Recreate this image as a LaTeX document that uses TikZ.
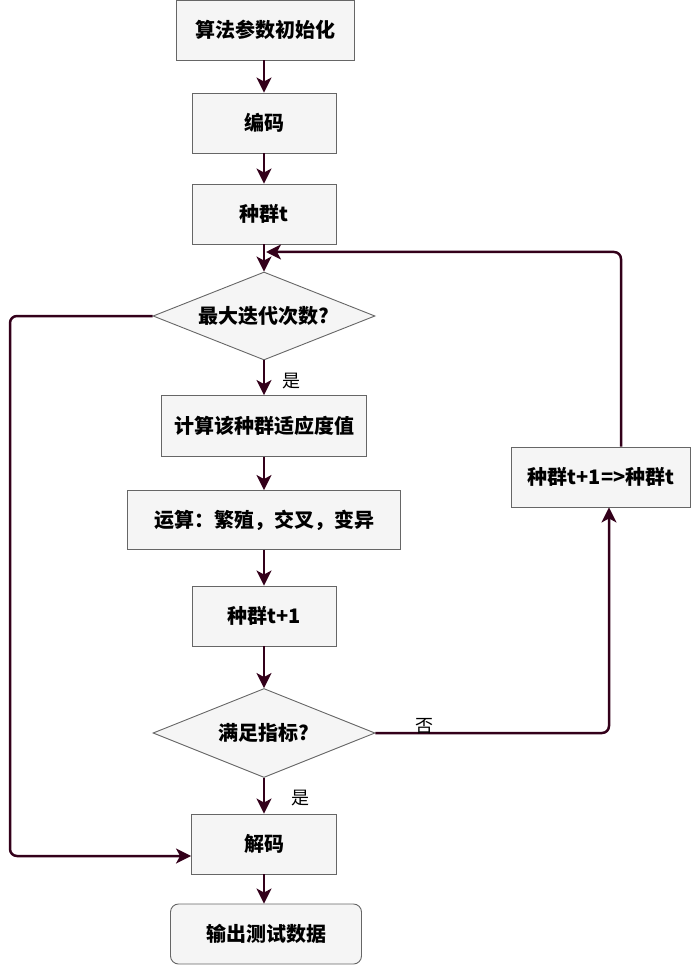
\documentclass[tikz,border=0pt]{standalone}
\usepackage{fontspec}
\setmainfont{Noto Sans CJK SC}
\usetikzlibrary{shapes.geometric,arrows.meta}
\definecolor{boxfill}{HTML}{F5F5F5}
\definecolor{boxline}{HTML}{666666}
\definecolor{flow}{HTML}{33001A}
\tikzset{
	proc/.style={fill=boxfill, draw=boxline, line width=0.9pt, inner sep=0pt, font=\fontsize{20}{23}\selectfont\bfseries},
	decide/.style={diamond, aspect=2.5, fill=boxfill, draw=boxline, line width=0.9pt, inner sep=0pt, font=\fontsize{20}{23}\selectfont\bfseries},
	flowline/.style={draw=flow, line width=2.5pt, rounded corners=7pt, -{Stealth[length=15pt,width=15pt,inset=4pt]}},
	yesno/.style={font=\fontsize{18}{21}\selectfont}
}
\begin{document}
\begin{tikzpicture}[x=1pt,y=-1pt]
	\useasboundingbox (0,0) rectangle (691,965);

	% main column
	\node[proc, minimum width=178pt, minimum height=60pt] (b1) at (265,30) {算法参数初始化};
	\node[proc, minimum width=144pt, minimum height=60pt] (b2) at (264,123) {编码};
	\node[proc, minimum width=144pt, minimum height=60pt] (b3) at (264,214) {种群t};
	\node[decide, minimum width=222pt, minimum height=88pt] (d1) at (264,316) {最大迭代次数?};
	\node[proc, minimum width=205pt, minimum height=61pt] (b4) at (264,426) {计算该种群适应度值};
	\node[proc, minimum width=273pt, minimum height=59pt] (b5) at (264,520) {运算：繁殖，交叉，变异};
	\node[proc, minimum width=144pt, minimum height=60pt] (b6) at (264,616) {种群t+1};
	\node[decide, minimum width=222pt, minimum height=89pt] (d2) at (264,733) {满足指标?};
	\node[proc, minimum width=145pt, minimum height=60pt] (b7) at (264,844) {解码};
	\node[proc, rounded corners=8pt, minimum width=191pt, minimum height=60pt] (b8) at (266,934) {输出测试数据};

	% side box
	\node[proc, minimum width=179pt, minimum height=60pt] (b9) at (601,477) {种群t+1=>种群t};

	\coordinate (m1) at (266,252);
	\coordinate (lft) at (10,316);

	\draw[flowline] (b1.south -| b2) -- (b2);
	\draw[flowline] (b2) -- (b3);
	\draw[flowline] (b3) -- (d1);
	\draw[flowline] (d1) -- (b4);
	\draw[flowline] (b4) -- (b5);
	\draw[flowline] (b5) -- (b6);
	\draw[flowline] (b6) -- (d2);
	\draw[flowline] (d2) -- (b7);
	\draw[flowline] (b7) -- (b7 |- b8.north);

	% loops
	\draw[flowline] (d2.east) -| ([xshift=8pt]b9.south);
	\draw[flowline] ([xshift=20pt]b9.north) |- (m1);
	\draw[flowline] (d1.west) -- (lft) |- ([yshift=-12pt]b7.west);

	\node[yesno] (yes1) at (291,381) {是};
	\node[yesno] (no1) at (424,726) {否};
	\node[yesno] (yes2) at (300,798) {是};
\end{tikzpicture}
\end{document}
